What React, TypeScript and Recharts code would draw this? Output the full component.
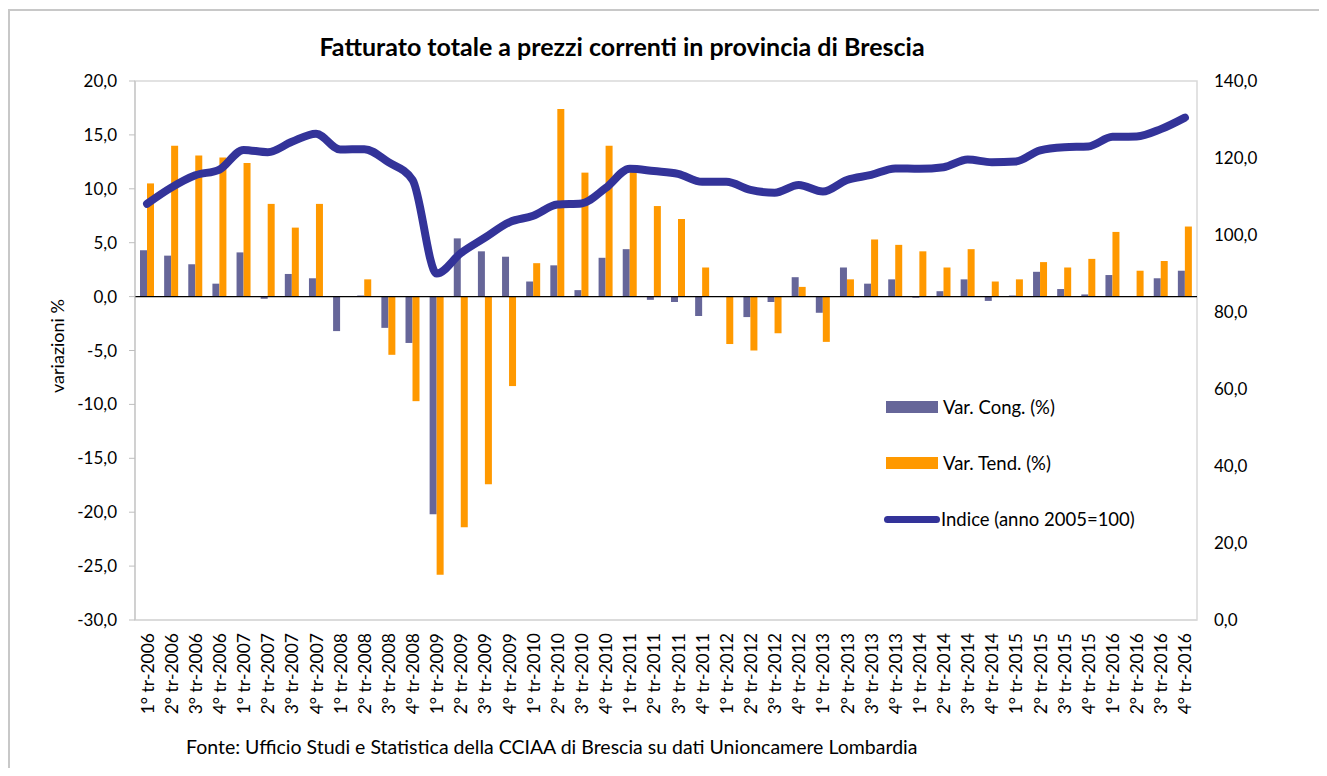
import {
  ComposedChart,
  Bar,
  Line,
  XAxis,
  YAxis,
  Legend,
  ReferenceLine,
  ReferenceArea,
} from "recharts";

const categories = [
  "1° tr-2006", "2° tr-2006", "3° tr-2006", "4° tr-2006",
  "1° tr-2007", "2° tr-2007", "3° tr-2007", "4° tr-2007",
  "1° tr-2008", "2° tr-2008", "3° tr-2008", "4° tr-2008",
  "1° tr-2009", "2° tr-2009", "3° tr-2009", "4° tr-2009",
  "1° tr-2010", "2° tr-2010", "3° tr-2010", "4° tr-2010",
  "1° tr-2011", "2° tr-2011", "3° tr-2011", "4° tr-2011",
  "1° tr-2012", "2° tr-2012", "3° tr-2012", "4° tr-2012",
  "1° tr-2013", "2° tr-2013", "3° tr-2013", "4° tr-2013",
  "1° tr-2014", "2° tr-2014", "3° tr-2014", "4° tr-2014",
  "1° tr-2015", "2° tr-2015", "3° tr-2015", "4° tr-2015",
  "1° tr-2016", "2° tr-2016", "3° tr-2016", "4° tr-2016",
];

const varCong = [
  4.3, 3.8, 3.0, 1.2, 4.1, -0.2, 2.1, 1.7,
  -3.2, 0.1, -2.9, -4.3, -20.2, 5.4, 4.2, 3.7,
  1.4, 2.9, 0.6, 3.6, 4.4, -0.3, -0.5, -1.8,
  0.0, -1.9, -0.5, 1.8, -1.5, 2.7, 1.2, 1.6,
  -0.1, 0.5, 1.6, -0.4, 0.1, 2.3, 0.7, 0.2,
  2.0, 0.05, 1.7, 2.4,
];

const varTend = [
  10.5, 14.0, 13.1, 12.9, 12.4, 8.6, 6.4, 8.6,
  0.05, 1.6, -5.4, -9.7, -25.8, -21.4, -17.4, -8.3,
  3.1, 17.4, 11.5, 14.0, 12.2, 8.4, 7.2, 2.7,
  -4.4, -5.0, -3.4, 0.9, -4.2, 1.6, 5.3, 4.8,
  4.2, 2.7, 4.4, 1.4, 1.6, 3.2, 2.7, 3.5,
  6.0, 2.4, 3.3, 6.5,
];

const indice = [
  108.1, 112.3, 115.5, 117.0, 122.1, 121.5, 124.2, 126.3,
  122.2, 122.3, 118.9, 114.3, 90.0, 95.3, 99.3, 103.3,
  105.0, 107.9, 108.2, 112.2, 117.2, 116.6, 115.9, 113.8,
  113.8, 111.7, 111.0, 113.0, 111.3, 114.3, 115.6, 117.3,
  117.2, 117.6, 119.6, 118.9, 119.1, 122.0, 122.8, 123.0,
  125.5, 125.6, 127.5, 130.5,
];

const leftTicks = [-30, -25, -20, -15, -10, -5, 0, 5, 10, 15, 20];
const rightTicks = [0, 20, 40, 60, 80, 100, 120, 140];

const data = categories.map((name, i) => ({
  name,
  cong: varCong[i],
  tend: varTend[i],
  indice: indice[i],
}));

const fmt = (v: number) => v.toFixed(1).replace(".", ",");

const CategoryTick = (props: any) => {
  const { x, y, payload } = props;
  const ty = y + 13;
  return (
    <text
      x={x}
      y={ty}
      transform={`rotate(-90, ${x}, ${ty})`}
      textAnchor="end"
      dominantBaseline="central"
      fontSize={17.5}
      fill="#000"
    >
      {payload.value}
    </text>
  );
};

const renderLegend = () => {
  const row = { display: "flex", alignItems: "center", height: 20, marginBottom: 36 };
  const label = { marginLeft: 5, fontSize: 18.5, color: "#000", whiteSpace: "nowrap" as const };
  return (
    <div>
      <div style={row}>
        <div style={{ width: 52, height: 12, background: "#666699" }} />
        <span style={label}>Var. Cong. (%)</span>
      </div>
      <div style={row}>
        <div style={{ width: 52, height: 12, background: "#FF9900" }} />
        <span style={label}>Var. Tend. (%)</span>
      </div>
      <div style={{ ...row, marginBottom: 0 }}>
        <div
          style={{
            width: 56,
            height: 7,
            borderRadius: 4,
            background: "#333399",
            marginLeft: -2,
          }}
        />
        <span style={{ ...label, marginLeft: 1 }}>Indice (anno 2005=100)</span>
      </div>
    </div>
  );
};

export default function App() {
  return (
    <div
      style={{
        position: "relative",
        width: 1311,
        height: 760,
        fontFamily: "Lato, sans-serif",
        background: "#fff",
      }}
    >
      {/* cornice del grafico */}
      <div style={{ position: "absolute", left: 0, top: 1, width: 1311, height: 2, background: "#c8c8c8" }} />
      <div style={{ position: "absolute", left: 0, top: 1, width: 2, height: 759, background: "#c8c8c8" }} />

      <div
        style={{
          position: "absolute",
          left: 114,
          top: 23,
          width: 1000,
          lineHeight: "30px",
          textAlign: "center",
          fontSize: 25,
          fontWeight: 700,
          color: "#000",
        }}
      >
        Fatturato totale a prezzi correnti in provincia di Brescia
      </div>

      <div
        style={{
          position: "absolute",
          left: -51,
          top: 326,
          width: 200,
          lineHeight: "24px",
          textAlign: "center",
          fontSize: 18,
          color: "#000",
          transform: "rotate(-90deg)",
        }}
      >
        variazioni %
      </div>

      <div
        style={{
          position: "absolute",
          left: 178,
          top: 727,
          lineHeight: "24px",
          fontSize: 19.5,
          color: "#000",
          whiteSpace: "nowrap",
        }}
      >
        Fonte: Ufficio Studi e Statistica della CCIAA di Brescia su dati Unioncamere Lombardia
      </div>

      <div style={{ position: "absolute", left: 0, top: 0 }}>
        <ComposedChart
          width={1311}
          height={760}
          data={data}
          margin={{ top: 73, right: 62, left: 67, bottom: 58 }}
          barGap={0}
        >
          <ReferenceArea
            yAxisId="left"
            y1={-30}
            y2={20}
            fill="none"
            stroke="#d9d9d9"
            strokeWidth={1.5}
          />
          <XAxis
            dataKey="name"
            interval={0}
            height={90}
            tickSize={0}
            tickMargin={0}
            axisLine={{ stroke: "#d9d9d9", strokeWidth: 1.5 }}
            tickLine={false}
            tick={<CategoryTick />}
          />
          <YAxis
            yAxisId="left"
            orientation="left"
            width={60}
            domain={[-30, 20]}
            ticks={leftTicks}
            interval={0}
            tickFormatter={fmt}
            tickSize={6}
            tickMargin={12}
            axisLine={{ stroke: "#bfbfbf" }}
            tickLine={{ stroke: "#bfbfbf" }}
            tick={{ fontSize: 17, fill: "#000" }}
          />
          <YAxis
            yAxisId="right"
            orientation="right"
            width={60}
            domain={[0, 140]}
            ticks={rightTicks}
            interval={0}
            tickFormatter={fmt}
            tickSize={0}
            tickMargin={17}
            axisLine={false}
            tickLine={false}
            tick={{ fontSize: 17, fill: "#000" }}
          />
          <Bar
            yAxisId="left"
            dataKey="cong"
            name="Var. Cong. (%)"
            fill="#666699"
            barSize={7}
            isAnimationActive={false}
          />
          <Bar
            yAxisId="left"
            dataKey="tend"
            name="Var. Tend. (%)"
            fill="#FF9900"
            barSize={7}
            isAnimationActive={false}
          />
          <ReferenceLine yAxisId="left" y={0} stroke="#000" strokeWidth={1.2} />
          <Line
            yAxisId="right"
            dataKey="indice"
            name="Indice (anno 2005=100)"
            type="monotone"
            stroke="#333399"
            strokeWidth={8}
            strokeLinecap="round"
            dot={false}
            activeDot={false}
            isAnimationActive={false}
          />
          <Legend
            layout="vertical"
            align="center"
            verticalAlign="middle"
            content={renderLegend}
            wrapperStyle={{ left: 878, top: 389, width: 320, height: 140 }}
          />
        </ComposedChart>
      </div>
    </div>
  );
}
